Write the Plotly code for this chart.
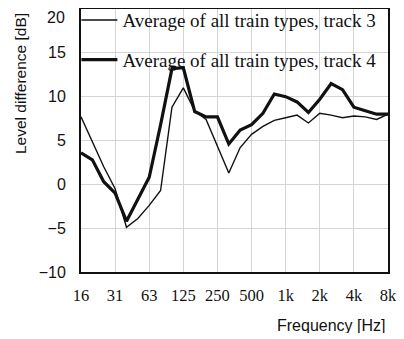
import plotly.graph_objects as go

# Third-octave band centre frequencies (Hz)
bands = ["16", "20", "25", "31.5", "40", "50", "63", "80", "100", "125",
         "160", "200", "250", "315", "400", "500", "630", "800", "1000", "1250",
         "1600", "2000", "2500", "3150", "4000", "5000", "6300", "8000"]

# Level difference [dB]
track3 = [7.7, 4.8, 2.0, -0.5, -4.9, -3.9, -2.4, -0.7, 8.8, 11.0,
          8.4, 7.4, 4.4, 1.3, 4.2, 5.7, 6.6, 7.3, 7.6, 7.9,
          7.0, 8.1, 7.9, 7.6, 7.8, 7.7, 7.4, 8.0]
track4 = [3.6, 2.8, 0.3, -1.0, -4.2, -1.7, 0.8, 6.8, 13.2, 13.3,
          8.3, 7.7, 7.7, 4.6, 6.2, 6.8, 8.1, 10.3, 10.0, 9.4,
          8.2, 9.7, 11.5, 10.8, 8.8, 8.4, 8.0, 8.0]

tick_bands = ["16", "31.5", "63", "125", "250", "500", "1000", "2000", "4000", "8000"]
tick_labels = ["16", "31", "63", "125", "250", "500", "1k", "2k", "4k", "8k"]
y_ticks_main = [-10, -5, 0, 5, 10, 15]
y_tick_top = 20

name3 = "Average of all train types, track 3"
name4 = "Average of all train types, track 4"

fig = go.Figure()
fig.add_trace(go.Scatter(x=bands, y=track3, mode="lines", name=name3,
                         legendgroup="a",
                         line=dict(color="#111111", width=1.4)))
fig.add_trace(go.Scatter(x=bands, y=track4, mode="lines", name=name4,
                         legendgroup="b",
                         line=dict(color="#111111", width=3.2)))

# page has an 8px body margin; figure is sized/offset to compensate
PW, PH = 307, 263
ytickfont = dict(family="Liberation Sans", size=16, color="#111111")
fig.update_layout(
    width=388, height=325, autosize=False,
    margin=dict(l=73, r=8, t=1, b=61, autoexpand=False),
    paper_bgcolor="white", plot_bgcolor="white",
    showlegend=True,
    legend=dict(x=-0.015, y=1.03, xanchor="left", yanchor="top",
                bgcolor="rgba(0,0,0,0)", borderwidth=0,
                font=dict(family="Liberation Serif", size=19, color="#111111"),
                tracegroupgap=12, itemwidth=36),
    shapes=[dict(type="rect", xref="paper", yref="paper",
                 x0=0, x1=(380 - 81) / PW, y0=(272 - 66) / PH, y1=1,
                 fillcolor="white", line=dict(width=0), layer="between")],
    xaxis=dict(type="category", categoryorder="array", categoryarray=bands,
               range=[0, 27], tickmode="array", tickvals=tick_bands,
               ticktext=tick_labels, showgrid=True, gridcolor="#d4d4d4",
               gridwidth=1, showline=True, linecolor="#111111", linewidth=2,
               mirror=True, ticks="", zeroline=False,
               tickfont=dict(family="Liberation Serif", size=16.5, color="#111111"),
               ticklabelstandoff=7, ticklabeloverflow="allow"),
    yaxis=dict(range=[-10, 20], tickmode="array", tickvals=y_ticks_main,
               showgrid=True, gridcolor="#d4d4d4", gridwidth=1,
               showline=True, linecolor="#111111", linewidth=2, mirror=True,
               ticks="", zeroline=False, tickfont=ytickfont,
               ticklabelstandoff=10, ticklabeloverflow="allow"),
    annotations=[
        # top y tick label, nudged down so it is not cut by the page edge
        dict(text=str(y_tick_top), xref="paper", yref="y",
             x=(67 - 81) / PW, y=y_tick_top, yshift=-8,
             xanchor="right", yanchor="middle", showarrow=False,
             font=ytickfont),
        dict(text="Frequency [Hz]", xref="paper", yref="paper",
             x=(379 - 73) / PW, y=(264 - 317) / PH,
             xanchor="right", yanchor="middle", showarrow=False,
             font=dict(family="Liberation Sans", size=16, color="#111111")),
        dict(text="Level difference [dB]", xref="paper", yref="paper",
             x=(12 - 73) / PW, y=(264 - 76) / PH, textangle=-90,
             xanchor="center", yanchor="middle", showarrow=False,
             font=dict(family="Liberation Sans", size=15.5, color="#111111")),
    ],
)

fig.write_html("out.html")
